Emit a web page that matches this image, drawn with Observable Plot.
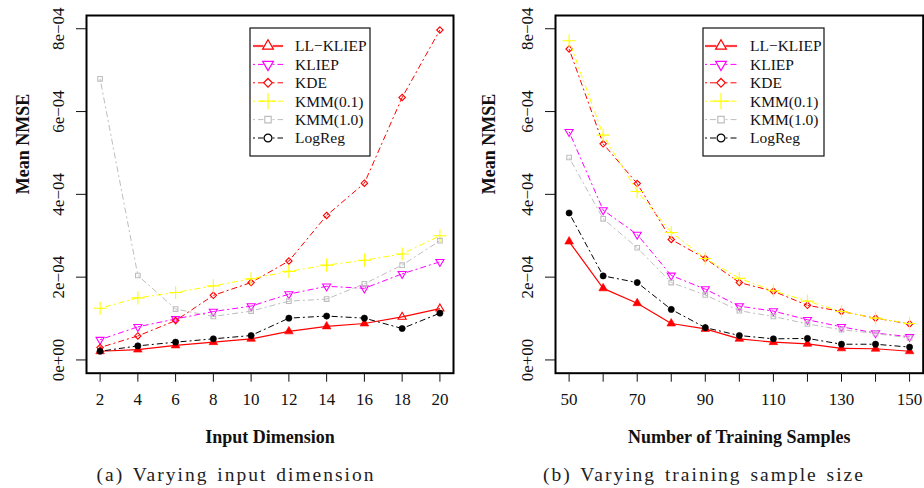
<!DOCTYPE html>
<html>
<head>
<meta charset="utf-8">
<script src="https://cdn.jsdelivr.net/npm/d3@7"></script>
<script src="https://cdn.jsdelivr.net/npm/@observablehq/plot@0.6"></script>
<style>
  body { margin: 0; background: #fff; }
  #wrap { position: relative; width: 924px; height: 488px; overflow: hidden; }
  .panel { position: absolute; top: 0; }
  .cap { position: absolute; top: 464px; width: 462px; text-align: center;
         font-family: "Liberation Serif", serif; font-size: 19.5px; letter-spacing: 2.0px; word-spacing: 2px; color: #222; }
</style>
</head>
<body>
<div id="wrap">
  <div id="pa" class="panel" style="left:0px"></div>
  <div id="pb" class="panel" style="left:462px"></div>
  <div class="cap" style="left:5px">(a) Varying input dimension</div>
  <div class="cap" style="left:473px">(b) Varying training sample size</div>
</div>
<script>
// ---------- data ----------
const methods = ["LL\u2212KLIEP", "KLIEP", "KDE", "KMM(0.1)", "KMM(1.0)", "LogReg"];
const yTicks = [0, 2e-4, 4e-4, 6e-4, 8e-4];
const yTickLabels = ["0e+00", "2e\u221204", "4e\u221204", "6e\u221204", "8e\u221204"];
const yLabel = "Mean NMSE";

// (a) varying input dimension
const dims = [2, 4, 6, 8, 10, 12, 14, 16, 18, 20];
const dimTickLabels = ["2", "4", "6", "8", "10", "12", "14", "16", "18", "20"];
const dimLLKLIEP = [0.21e-4, 0.25e-4, 0.35e-4, 0.43e-4, 0.51e-4, 0.69e-4, 0.81e-4, 0.88e-4, 1.04e-4, 1.24e-4];
const dimKLIEP   = [0.49e-4, 0.80e-4, 0.99e-4, 1.17e-4, 1.30e-4, 1.59e-4, 1.78e-4, 1.73e-4, 2.08e-4, 2.37e-4];
const dimKDE     = [0.30e-4, 0.58e-4, 0.95e-4, 1.56e-4, 1.87e-4, 2.39e-4, 3.49e-4, 4.27e-4, 6.34e-4, 7.97e-4];
const dimKMM01   = [1.25e-4, 1.50e-4, 1.63e-4, 1.79e-4, 1.96e-4, 2.14e-4, 2.29e-4, 2.41e-4, 2.56e-4, 3.00e-4];
const dimKMM10   = [6.79e-4, 2.04e-4, 1.23e-4, 1.05e-4, 1.18e-4, 1.42e-4, 1.47e-4, 1.84e-4, 2.29e-4, 2.88e-4];
const dimLogReg  = [0.21e-4, 0.34e-4, 0.43e-4, 0.51e-4, 0.59e-4, 1.01e-4, 1.06e-4, 1.01e-4, 0.76e-4, 1.13e-4];
// filled markers (best / comparable method)
const dimLLKLIEPFilled = [true, true, true, true, true, true, true, true, false, false];
const dimLogRegFilled  = [true, true, true, true, true, true, true, true, true, true];

// (b) varying training sample size
const samples = [50, 60, 70, 80, 90, 100, 110, 120, 130, 140, 150];
const sampleTickLabels = ["50", "", "70", "", "90", "", "110", "", "130", "", "150"];
const smpLLKLIEP = [2.86e-4, 1.73e-4, 1.37e-4, 0.88e-4, 0.75e-4, 0.51e-4, 0.43e-4, 0.39e-4, 0.28e-4, 0.27e-4, 0.21e-4];
const smpKLIEP   = [5.51e-4, 3.62e-4, 3.03e-4, 2.04e-4, 1.71e-4, 1.30e-4, 1.18e-4, 0.97e-4, 0.80e-4, 0.65e-4, 0.56e-4];
const smpKDE     = [7.51e-4, 5.22e-4, 4.26e-4, 2.91e-4, 2.45e-4, 1.87e-4, 1.66e-4, 1.32e-4, 1.17e-4, 1.01e-4, 0.87e-4];
const smpKMM01   = [7.71e-4, 5.43e-4, 4.07e-4, 3.08e-4, 2.45e-4, 1.97e-4, 1.67e-4, 1.42e-4, 1.17e-4, 1.01e-4, 0.88e-4];
const smpKMM10   = [4.89e-4, 3.41e-4, 2.71e-4, 1.87e-4, 1.57e-4, 1.19e-4, 1.05e-4, 0.87e-4, 0.73e-4, 0.64e-4, 0.53e-4];
const smpLogReg  = [3.55e-4, 2.03e-4, 1.87e-4, 1.22e-4, 0.78e-4, 0.59e-4, 0.51e-4, 0.52e-4, 0.38e-4, 0.38e-4, 0.31e-4];
const smpLLKLIEPFilled = samples.map(() => true);
const smpLogRegFilled  = samples.map(() => true);

// ---------- styles ----------
const DOTDASH = "2,3,6,3";
const styles = [
  {color: "#FF0000", symbol: "triangle", d3sym: d3.symbolTriangle, r: 3.0, rotate: 0,   dash: null,    w: 1.2, lw: 2.2},
  {color: "#FF00FF", symbol: "triangle", d3sym: d3.symbolTriangle, r: 3.0, rotate: 180, dash: DOTDASH, w: 1,   lw: 1},
  {color: "#FF0000", symbol: "diamond2", d3sym: d3.symbolDiamond2, r: 2.9, rotate: 0,   dash: DOTDASH, w: 1,   lw: 1},
  {color: "#FFFF00", symbol: "plus",     d3sym: d3.symbolPlus,     r: 4.3, rotate: 0,   dash: DOTDASH, w: 1,   lw: 1},
  {color: "#BEBEBE", symbol: "square",   d3sym: d3.symbolSquare,   r: 2.6, rotate: 0,   dash: DOTDASH, w: 1,   lw: 1},
  {color: "#000000", symbol: "circle",   d3sym: d3.symbolCircle,   r: 2.9, rotate: 0,   dash: DOTDASH, w: 1,   lw: 1}
];
const GAP = 4.5; // R type="b": lines stop short of the points

function buildPanel(cfg) {
  const marks = [];
  cfg.series.forEach((vals, i) => {
    const st = styles[i];
    const filled = cfg.filled[i];
    const rows = cfg.xs.map((x, j) => ({x, y: vals[j], filled: filled ? filled[j] : false}));
    const segs = rows.slice(1).map((d, j) => ({x1: rows[j].x, y1: rows[j].y, x2: d.x, y2: d.y}));
    marks.push(Plot.link(segs, {x1: "x1", y1: "y1", x2: "x2", y2: "y2", stroke: st.color, strokeWidth: st.w,
      strokeDasharray: st.dash, ariaLabel: "seg"}));
    marks.push(Plot.dot(rows.filter(d => !d.filled), {x: "x", y: "y", symbol: () => st.symbol, r: st.r, rotate: st.rotate,
      stroke: st.color, fill: "none", strokeWidth: 1.1}));
    marks.push(Plot.dot(rows.filter(d => d.filled), {x: "x", y: "y", symbol: () => st.symbol, r: st.r + 0.2, rotate: st.rotate,
      stroke: st.color, fill: st.color, strokeWidth: 0.6}));
  });
  const svg = Plot.plot({
    width: 462, height: 452,
    marginLeft: cfg.ml, marginRight: cfg.mr, marginTop: 15, marginBottom: 79.3,
    style: {fontFamily: "'Liberation Serif', serif", fontSize: "17px", color: "#111", background: "#fff", overflow: "visible"},
    x: {domain: cfg.xDomain, axis: null},
    y: {domain: [-0.32e-4, 8.32e-4], axis: null},
    symbol: {type: "identity"},
    marks: [
      ...marks,
      Plot.frame({stroke: "#000", strokeWidth: 2}),
      Plot.axisX(cfg.xs, {tickSize: 9, tickPadding: 11, fontSize: 17, tickFormat: d => cfg.xLabels[cfg.xs.indexOf(d)], label: null}),
      Plot.axisY(yTicks, {tickSize: 10, tickPadding: 13, tickRotate: -90, fontSize: 17, tickFormat: d => yTickLabels[yTicks.indexOf(d)], label: null}),
      Plot.text([cfg.xTitle], {text: d => d, frameAnchor: "bottom", dy: 64, fontWeight: "bold", fontSize: 18, lineAnchor: "middle"}),
      Plot.text([yLabel], {text: d => d, frameAnchor: "left", dx: cfg.ytDx, rotate: -90, fontWeight: "bold", fontSize: 18, lineAnchor: "middle"})
    ]
  });

  // shorten each connecting segment so it stops short of the markers (like R's type = "b")
  d3.select(svg).selectAll('g[aria-label="seg"] path').each(function () {
    const dAttr = this.getAttribute("d");
    const nums = (dAttr.match(/-?\d*\.?\d+(?:e-?\d+)?/g) || []).map(Number);
    if (nums.length < 4) return;
    const [ax, ay] = nums.slice(0, 2);
    const [bx, by] = nums.slice(-2);
    const len = Math.hypot(bx - ax, by - ay);
    if (len <= 2 * GAP + 1) { this.setAttribute("d", ""); return; }
    const ux = (bx - ax) / len, uy = (by - ay) / len;
    this.setAttribute("d", `M${ax + ux * GAP},${ay + uy * GAP}L${bx - ux * GAP},${by - uy * GAP}`);
  });

  // legend
  const L = cfg.legend;
  const g = d3.select(svg).append("g").attr("font-family", "'Liberation Serif', serif").attr("font-size", 15.5);
  g.append("rect").attr("x", L.x0).attr("y", 28).attr("width", L.x1 - L.x0).attr("height", 128)
    .attr("fill", "#fff").attr("stroke", "#111").attr("stroke-width", 1.2);
  methods.forEach((m, i) => {
    const st = styles[i];
    const y = 46 + i * 18.4;
    const cx = (L.l0 + L.l1) / 2;
    [[L.l0, cx - GAP], [cx + GAP, L.l1]].forEach(([a, b]) => {
      g.append("line").attr("x1", a).attr("x2", b).attr("y1", y).attr("y2", y)
        .attr("stroke", st.color).attr("stroke-width", st.lw).attr("stroke-dasharray", st.dash).attr("opacity", i === 0 ? 0.75 : 1);
    });
    const sz = Math.PI * (st.r + 1) * (st.r + 1);
    g.append("path").attr("d", d3.symbol(st.d3sym, sz)())
      .attr("transform", `translate(${cx},${y}) rotate(${st.rotate})`)
      .attr("fill", "#fff").attr("stroke", st.color).attr("stroke-width", 1.2);
    g.append("text").attr("x", L.tx).attr("y", y).attr("dy", "0.35em").attr("text-anchor", "start")
      .attr("fill", "#111").text(m);
  });
  return svg;
}

document.getElementById("pa").appendChild(buildPanel({
  xs: dims, xLabels: dimTickLabels, xDomain: [1.28, 20.72], xTitle: "Input Dimension",
  series: [dimLLKLIEP, dimKLIEP, dimKDE, dimKMM01, dimKMM10, dimLogReg],
  filled: [dimLLKLIEPFilled, null, null, null, null, dimLogRegFilled],
  ml: 86, mr: 9, ytDx: -63,
  legend: {x0: 250, x1: 370, l0: 253, l1: 283, tx: 295}
}));
document.getElementById("pb").appendChild(buildPanel({
  xs: samples, xLabels: sampleTickLabels, xDomain: [46, 154], xTitle: "Number of Training Samples",
  series: [smpLLKLIEP, smpKLIEP, smpKDE, smpKMM01, smpKMM10, smpLogReg],
  filled: [smpLLKLIEPFilled, null, null, null, null, smpLogRegFilled],
  ml: 93, mr: 1.3, ytDx: -66,
  legend: {x0: 241, x1: 362, l0: 243, l1: 275, tx: 288}
}));
</script>
</body>
</html>
